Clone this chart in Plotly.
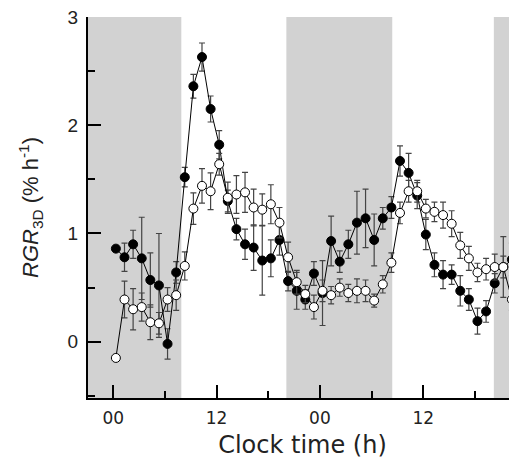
import plotly.graph_objects as go

time_h = [0.3, 1.3, 2.3, 3.3, 4.3, 5.3, 6.3, 7.3, 8.3, 9.3, 10.3, 11.3, 12.3, 13.3, 14.3, 15.3,
          16.3, 17.3, 18.3, 19.3, 20.3, 21.3, 22.3, 23.3, 24.3, 25.3, 26.3, 27.3, 28.3, 29.3,
          30.3, 31.3, 32.3, 33.3, 34.3, 35.3, 36.3, 37.3, 38.3, 39.3, 40.3, 41.3, 42.3, 43.3,
          44.3, 45.3, 46.3]

rgr_filled = [0.86, 0.78, 0.90, 0.77, 0.57, 0.52, -0.02, 0.64, 1.52, 2.36, 2.63, 2.15, 1.82,
              1.30, 1.04, 0.90, 0.87, 0.75, 0.77, 0.94, 0.56, 0.47, 0.39, 0.63, 0.45, 0.93,
              0.74, 0.90, 1.10, 1.14, 0.94, 1.14, 1.24, 1.67, 1.56, 1.35, 0.99, 0.71, 0.62,
              0.62, 0.47, 0.39, 0.19, 0.28, 0.54, 0.69, 0.76]
err_filled = [0.0, 0.13, 0.13, 0.38, 0.25, 0.48, 0.14, 0.10, 0.09, 0.11, 0.13, 0.12, 0.13,
              0.10, 0.10, 0.14, 0.21, 0.32, 0.17, 0.14, 0.09, 0.17, 0.09, 0.11, 0.30, 0.23,
              0.10, 0.13, 0.29, 0.27, 0.24, 0.10, 0.10, 0.14, 0.18, 0.12, 0.14, 0.11, 0.13,
              0.09, 0.14, 0.10, 0.12, 0.10, 0.09, 0.28, 0.15]

rgr_open = [-0.15, 0.39, 0.30, 0.32, 0.18, 0.17, 0.39, 0.43, 0.70, 1.23, 1.44, 1.39, 1.64,
            1.33, 1.36, 1.38, 1.24, 1.22, 1.27, 1.10, 0.78, 0.55, 0.44, 0.32, 0.47, 0.43,
            0.50, 0.45, 0.47, 0.47, 0.38, 0.53, 0.73, 1.19, 1.39, 1.39, 1.23, 1.20, 1.17,
            1.09, 0.89, 0.77, 0.64, 0.67, 0.69, 0.69, 0.39]
err_open = [0.0, 0.17, 0.19, 0.13, 0.16, 0.10, 0.11, 0.14, 0.13, 0.145, 0.16, 0.17, 0.10,
            0.145, 0.175, 0.185, 0.17, 0.145, 0.18, 0.14, 0.14, 0.11, 0.08, 0.11, 0.10, 0.08,
            0.08, 0.08, 0.11, 0.10, 0.06, 0.08, 0.09, 0.10, 0.10, 0.10, 0.085, 0.09, 0.12,
            0.12, 0.12, 0.11, 0.085, 0.10, 0.12, 0.10, 0.10]

dark_periods = [(-3.0, 7.9), (20.1, 32.4), (44.2, 48.0)]

tick_vals = [0, 12, 24, 36]
tick_text = ["00", "12", "00", "12"]
minor_vals = [6, 18, 30, 42]

fig = go.Figure()

for x0, x1 in dark_periods:
    fig.add_shape(type="rect", xref="x", yref="paper", x0=x0, x1=x1, y0=0, y1=1,
                  fillcolor="#d2d2d2", line_width=0, layer="below")

fig.add_trace(go.Scatter(
    x=time_h, y=rgr_filled, mode="lines+markers",
    line=dict(color="black", width=1),
    marker=dict(symbol="circle", size=9, color="black", line=dict(color="black", width=1)),
    error_y=dict(type="data", array=err_filled, visible=True, color="#444444", thickness=1.2, width=3),
    showlegend=False))

fig.add_trace(go.Scatter(
    x=time_h, y=rgr_open, mode="lines+markers",
    line=dict(color="black", width=1),
    marker=dict(symbol="circle", size=9, color="white", line=dict(color="black", width=1)),
    error_y=dict(type="data", array=err_open, visible=True, color="#444444", thickness=1.2, width=3),
    showlegend=False))

# the page body adds an 8 px offset, so the figure is 8 px smaller and shifted accordingly
fig.update_layout(
    width=509, height=451,
    margin=dict(l=80, r=0, t=9, b=61, autoexpand=False),
    paper_bgcolor="white", plot_bgcolor="white",
    xaxis=dict(
        range=[-2.94, 46.89], showgrid=False, zeroline=False, automargin=False,
        showline=True, linecolor="black", linewidth=2,
        tickmode="array", tickvals=tick_vals, ticktext=tick_text,
        ticks="inside", ticklen=13, tickwidth=2, tickcolor="black",
        ticklabelstandoff=4, ticklabeloverflow="allow",
        tickfont=dict(family="DejaVu Sans", size=17, color="#222222"),
        minor=dict(tickmode="array", tickvals=minor_vals, ticks="inside", ticklen=7,
                   tickwidth=2, tickcolor="black"),
        title=dict(text="Clock time (h)", font=dict(family="DejaVu Sans", size=24, color="#222222"),
                   standoff=9),
    ),
    yaxis=dict(
        range=[-0.52, 3.0], showgrid=False, zeroline=False, automargin=False,
        showline=True, linecolor="black", linewidth=2,
        tickmode="array", tickvals=[0, 1, 2, 3],
        ticks="inside", ticklen=13, tickwidth=2, tickcolor="black",
        ticklabelstandoff=4, ticklabeloverflow="allow",
        tickfont=dict(family="Liberation Sans", size=19, color="#222222"),
        minor=dict(tickmode="array", tickvals=[-0.5, 0.5, 1.5, 2.5], ticks="inside", ticklen=7,
                   tickwidth=2, tickcolor="black"),
        title=dict(text="<i>RGR</i><sub>3D</sub> (% h<sup>-1</sup>)",
                   font=dict(family="Liberation Sans", size=22, color="#222222"),
                   standoff=23),
    ),
)

fig.write_html("out.html")
